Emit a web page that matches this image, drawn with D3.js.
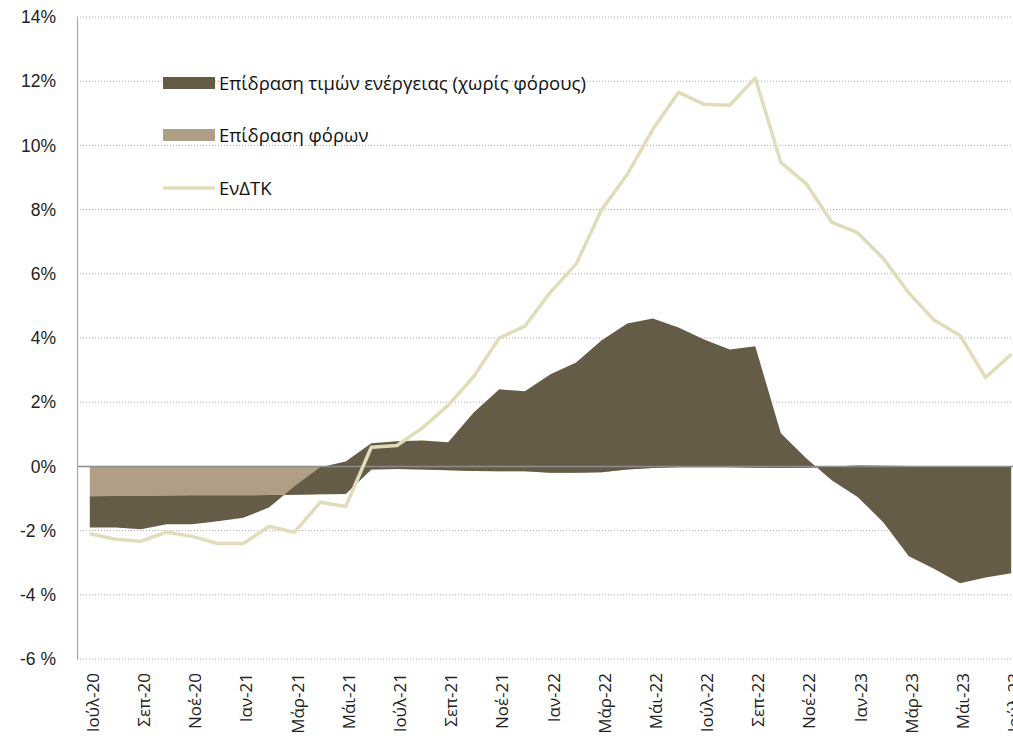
<!DOCTYPE html>
<html>
<head>
<meta charset="utf-8">
<script src="https://cdn.jsdelivr.net/npm/d3@7"></script>
<style>
  html, body { margin: 0; padding: 0; background: #fff; overflow: hidden; }
  svg { display: block; font-family: "Open Sans", "Liberation Sans", sans-serif; }
</style>
</head>
<body>
<div id="chart"></div>
<script>
// Months, Ιούλ-20 .. Ιούλ-23
const months = ['Ιούλ-20','Αύγ-20','Σεπ-20','Οκτ-20','Νοέ-20','Δεκ-20',
  'Ιαν-21','Φεβ-21','Μάρ-21','Απρ-21','Μάι-21','Ιούν-21','Ιούλ-21','Αύγ-21','Σεπ-21','Οκτ-21','Νοέ-21','Δεκ-21',
  'Ιαν-22','Φεβ-22','Μάρ-22','Απρ-22','Μάι-22','Ιούν-22','Ιούλ-22','Αύγ-22','Σεπ-22','Οκτ-22','Νοέ-22','Δεκ-22',
  'Ιαν-23','Φεβ-23','Μάρ-23','Απρ-23','Μάι-23','Ιούν-23','Ιούλ-23'];

// Tax effect (%)
const taxEffect = [-0.93,-0.92,-0.92,-0.91,-0.90,-0.90,-0.90,-0.89,-0.88,-0.87,-0.86,-0.10,-0.08,-0.10,-0.12,-0.14,-0.15,-0.15,
  -0.20,-0.20,-0.18,-0.10,-0.05,-0.03,-0.03,-0.03,-0.04,-0.05,-0.04,0.00,0.03,0.02,0.01,0.00,0.00,0.00,0.00];

// Energy price effect, excluding taxes (%)
const energyEffect = [-0.97,-0.98,-1.04,-0.89,-0.90,-0.81,-0.70,-0.39,0.26,0.84,1.01,0.82,0.86,0.91,0.87,1.82,2.55,2.49,
  3.07,3.44,4.11,4.55,4.66,4.36,3.98,3.67,3.78,1.08,0.29,-0.44,-0.98,-1.76,-2.81,-3.20,-3.64,-3.46,-3.33];

// HICP (ΕνΔΤΚ) annual change (%)
const hicp = [-2.10,-2.27,-2.33,-2.05,-2.18,-2.40,-2.40,-1.87,-2.05,-1.12,-1.25,0.60,0.65,1.20,1.90,2.80,4.00,4.37,
  5.43,6.30,8.00,9.10,10.50,11.65,11.28,11.25,12.10,9.47,8.80,7.60,7.28,6.48,5.40,4.55,4.08,2.77,3.49];

const yTicks = [-6,-4,-2,0,2,4,6,8,10,12,14];

const colors = { energy: '#655c47', tax: '#b09e87', hicp: '#e1dcb9' };

const W = 1013, H = 741;
const svg = d3.select('#chart').append('svg')
    .attr('width', W)
    .attr('height', H);

const x = d3.scalePoint()
    .domain(months)
    .range([77, 1024])
    .padding(0.5);

const y = d3.scaleLinear()
    .domain([-6, 14])
    .range([659, 17]);

// gridlines
svg.append('g')
    .selectAll('line')
    .data(yTicks.filter(d => d !== 0))
    .enter()
    .append('line')
    .attr('x1', 77)
    .attr('x2', W)
    .attr('y1', d => y(d))
    .attr('y2', d => y(d))
    .attr('stroke', '#a6a6a6')
    .attr('stroke-width', 1)
    .attr('stroke-dasharray', '1,2');

// stacked areas (tax first, energy on top of it)
const rows = months.map((m, i) => ({ month: m, tax: taxEffect[i], energy: energyEffect[i] }));
const series = d3.stack().keys(['tax', 'energy'])(rows);

const area = d3.area()
    .x(d => x(d.data.month))
    .y0(d => y(d[0]))
    .y1(d => y(d[1]));

svg.append('g')
    .selectAll('path')
    .data(series)
    .enter()
    .append('path')
    .attr('d', area)
    .attr('fill', d => colors[d.key]);

// zero line
svg.append('line')
    .attr('x1', 77)
    .attr('x2', W)
    .attr('y1', y(0))
    .attr('y2', y(0))
    .attr('stroke', '#8c8c8c')
    .attr('stroke-width', 1.5);

// HICP line
const line = d3.line()
    .x((d, i) => x(months[i]))
    .y(d => y(d));

svg.append('path')
    .datum(hicp)
    .attr('d', line)
    .attr('fill', 'none')
    .attr('stroke', colors.hicp)
    .attr('stroke-width', 3.5)
    .attr('stroke-linejoin', 'round');

// left axis
const yAxis = d3.axisLeft(y)
    .tickValues(yTicks)
    .tickSize(0)
    .tickPadding(21)
    .tickFormat(d => d < 0 ? d + ' %' : d + '%');

const gy = svg.append('g')
    .attr('transform', 'translate(77,0)')
    .call(yAxis);
gy.select('.domain').attr('stroke', '#a6a6a6').attr('stroke-width', 1.2);
gy.selectAll('text')
    .attr('font-size', 17.5)
    .attr('fill', '#222');

// x labels, every second month, rotated
svg.append('g')
    .selectAll('text')
    .data(months.filter((m, i) => i % 2 === 0))
    .enter()
    .append('text')
    .attr('transform', d => `translate(${x(d) + 9},673) rotate(-90)`)
    .attr('text-anchor', 'end')
    .attr('font-size', 17)
    .attr('fill', '#222')
    .text(d => d);

// legend
const legend = [
  { label: 'Επίδραση τιμών ενέργειας (χωρίς φόρους)', key: 'energy', type: 'rect', cy: 83 },
  { label: 'Επίδραση φόρων', key: 'tax', type: 'rect', cy: 135 },
  { label: 'ΕνΔΤΚ', key: 'hicp', type: 'line', cy: 188 }
];

const lg = svg.append('g');
legend.forEach(l => {
  if (l.type === 'rect') {
    lg.append('rect')
      .attr('x', 163).attr('y', l.cy - 6)
      .attr('width', 52).attr('height', 12)
      .attr('fill', colors[l.key]);
  } else {
    lg.append('line')
      .attr('x1', 163).attr('x2', 215)
      .attr('y1', l.cy).attr('y2', l.cy)
      .attr('stroke', colors[l.key])
      .attr('stroke-width', 3.5);
  }
  lg.append('text')
    .attr('x', 219)
    .attr('y', l.cy + 6.5)
    .attr('font-size', 18.5)
    .attr('fill', '#111')
    .text(l.label);
});
</script>
</body>
</html>
